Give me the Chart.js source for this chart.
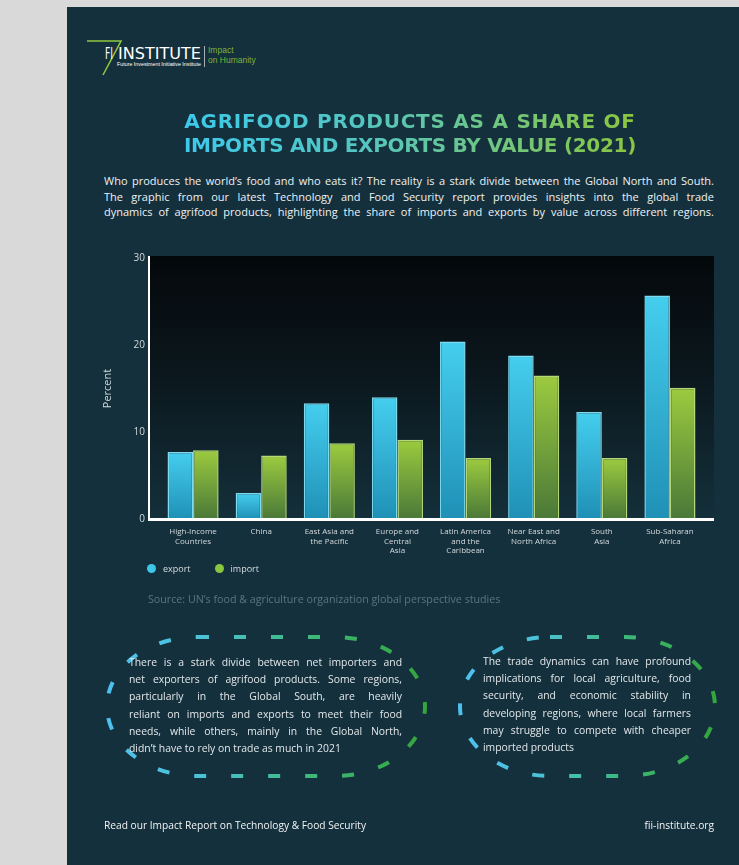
<!DOCTYPE html>
<html>
<head>
<meta charset="utf-8">
<script src="https://cdn.jsdelivr.net/npm/chart.js@4.4.1/dist/chart.umd.min.js"></script>
<style>
html, body { margin: 0; padding: 0; }
body {
    width: 739px; height: 865px; overflow: hidden; position: relative;
    background: #d9d9d9;
    font-family: "Open Sans", sans-serif;
}
.panel { position: absolute; left: 67px; top: 7px; right: 0; bottom: 0; background: #14303c; }
.abs { position: absolute; }
.title {
    left: 160px; top: 109px; width: 500px; text-align: center;
    font-family: "DejaVu Sans", sans-serif; font-weight: bold; font-size: 20px; line-height: 24px;
    white-space: nowrap;
}
.title span {
    background: linear-gradient(90deg, #3ccaec 0%, #55c6c0 40%, #8cc63f 100%);
    -webkit-background-clip: text; background-clip: text; color: transparent;
}
.intro { left: 104px; top: 173px; width: 610px; font-size: 11px; line-height: 15.5px; color: #eef2f4; }
.j { text-align: justify; text-align-last: justify; }
.note { font-size: 10.4px; line-height: 17.2px; color: #e3e8eb; }
.chart-wrap { left: 95px; top: 238px; width: 644px; height: 330px; }
.legend { left: 147px; top: 562px; font-size: 9px; color: #d8dde0; display: flex; }
.legend div { display: flex; align-items: center; margin-right: 24px; }
.legend i { display: inline-block; width: 9px; height: 9px; border-radius: 50%; margin-right: 7px; }
.source { left: 148px; top: 592px; font-size: 10.7px; color: #5d7480; white-space: nowrap; }
.footer { top: 818px; font-size: 10.2px; color: #f2f4f5; white-space: nowrap; }
</style>
</head>
<body>
<div class="panel"></div>

<!-- logo -->
<svg class="abs" style="left:0;top:0" width="739" height="90">
    <polyline points="87,41 121,41 103,75" fill="none" stroke="#8dc63f" stroke-width="1.6"/>
    <text x="105" y="59" fill="#ffffff" font-family="'DejaVu Sans Condensed', 'Liberation Sans Narrow', sans-serif" font-size="15" textLength="8" lengthAdjust="spacingAndGlyphs">FI</text>
    <text x="118" y="59" fill="#ffffff" font-family="'DejaVu Sans Condensed', 'Liberation Sans Narrow', sans-serif" font-size="15" textLength="83" lengthAdjust="spacingAndGlyphs">INSTITUTE</text>
    <text x="117" y="66" fill="#ffffff" font-family="'Liberation Sans Narrow', sans-serif" font-size="4.6" textLength="84" lengthAdjust="spacingAndGlyphs">Future Investment Initiative Institute</text>
    <line x1="204.5" y1="46" x2="204.5" y2="67" stroke="#c9d1d5" stroke-width="0.8"/>
    <text x="208" y="53" fill="#7db33a" font-family="'Liberation Sans', sans-serif" font-size="8.5">Impact</text>
    <text x="208" y="63" fill="#7db33a" font-family="'Liberation Sans', sans-serif" font-size="8.5">on Humanity</text>
</svg>

<div class="abs title">
    <span style="letter-spacing:0.75px">AGRIFOOD PRODUCTS AS A SHARE OF</span><br>
    <span style="letter-spacing:-0.3px">IMPORTS AND EXPORTS BY VALUE (2021)</span>
</div>

<div class="abs intro">
    <div class="j">Who produces the world’s food and who eats it? The reality is a stark divide between the Global North and South.</div>
    <div class="j">The graphic from our latest Technology and Food Security report provides insights into the global trade</div>
    <div class="j">dynamics of agrifood products, highlighting the share of imports and exports by value across different regions.</div>
</div>

<div class="abs chart-wrap"><canvas id="trade-chart" width="644" height="330"></canvas></div>
<div class="abs legend" id="legend"></div>
<div class="abs source">Source: UN’s food &amp; agriculture organization global perspective studies</div>

<!-- dashed ovals -->
<svg class="abs" style="left:0;top:0" width="739" height="865">
    <defs>
        <linearGradient id="dash-grad" x1="0" y1="0" x2="1" y2="0">
            <stop offset="0" stop-color="#4dc0f0"/>
            <stop offset="0.3" stop-color="#4cc2d6"/>
            <stop offset="0.65" stop-color="#3db878"/>
            <stop offset="1" stop-color="#33a53c"/>
        </linearGradient>
    </defs>
    <rect x="107" y="637" width="318" height="139" rx="90" ry="69.5" fill="none" stroke="url(#dash-grad)" stroke-width="4" stroke-dasharray="12 25"/>
    <rect x="460" y="637" width="255" height="139" rx="90" ry="69.5" fill="none" stroke="url(#dash-grad)" stroke-width="4" stroke-dasharray="12 25"/>
</svg>

<div class="abs note" style="left:129px;top:654px;width:273px">
    <div class="j">There is a stark divide between net importers and</div>
    <div class="j">net exporters of agrifood products. Some regions,</div>
    <div class="j">particularly in the Global South, are heavily</div>
    <div class="j">reliant on imports and exports to meet their food</div>
    <div class="j">needs, while others, mainly in the Global North,</div>
    <div>didn’t have to rely on trade as much in 2021</div>
</div>
<div class="abs note" style="left:483px;top:653px;width:208px">
    <div class="j">The trade dynamics can have profound</div>
    <div class="j">implications for local agriculture, food</div>
    <div class="j">security, and economic stability in</div>
    <div class="j">developing regions, where local farmers</div>
    <div class="j">may struggle to compete with cheaper</div>
    <div>imported products</div>
</div>

<div class="abs footer" style="left:104px">Read our Impact Report on Technology &amp; Food Security</div>
<div class="abs footer" style="right:25px">fii-institute.org</div>

<script>
// Regions on the x axis (multi-line labels as drawn in the graphic)
const regions = [
    ['High-Income', 'Countries'],
    'China',
    ['East Asia and', 'the Pacific'],
    ['Europe and', 'Central', 'Asia'],
    ['Latin America', 'and the', 'Caribbean'],
    ['Near East and', 'North Africa'],
    ['South', 'Asia'],
    ['Sub-Saharan', 'Africa']
];

// Agrifood share of exports / imports by value, 2021 (percent)
const exportShare = [7.7, 3.0, 13.3, 14.0, 20.4, 18.8, 12.3, 25.7];
const importShare = [7.9, 7.3, 8.7, 9.1, 7.0, 16.5, 7.0, 15.1];

const yTicks = [0, 10, 20, 30];

const seriesNames = ['export', 'import'];
const seriesColors = ['#3ec6e8', '#8cc63f'];

const labelColor = '#d3d9dc';

// Vertical gradient for each bar, bright at the top, darker at the axis
function barGradient(top, bottom) {
    return function(context) {
        const chart = context.chart;
        const yScale = chart.scales.y;
        if (!chart.chartArea || !yScale) return top;
        const yTop = yScale.getPixelForValue(context.raw);
        const yBottom = yScale.getPixelForValue(0);
        if (!isFinite(yTop) || yTop === yBottom) return top;
        const g = chart.ctx.createLinearGradient(0, yTop, 0, yBottom);
        g.addColorStop(0, top);
        g.addColorStop(1, bottom);
        return g;
    };
}

// Dark plot backdrop plus the white axis lines, which sit a bit outside the category band
const plotFrame = {
    id: 'plotFrame',
    beforeDatasetsDraw(chart) {
        const { ctx, chartArea } = chart;
        const left = chartArea.left - 10;
        const right = chartArea.right + 10;
        const top = chartArea.top - 2;
        const g = ctx.createLinearGradient(0, top, 0, chartArea.bottom);
        g.addColorStop(0, '#04080b');
        g.addColorStop(0.45, '#0b171d');
        g.addColorStop(1, '#14303b');
        ctx.save();
        ctx.fillStyle = g;
        ctx.fillRect(left, top, right - left, chartArea.bottom - top);
        ctx.restore();
    },
    afterDatasetsDraw(chart) {
        const { ctx, chartArea } = chart;
        const left = chartArea.left - 10;
        const right = chartArea.right + 10;
        ctx.save();
        ctx.strokeStyle = '#ffffff';
        ctx.lineWidth = 2;
        ctx.beginPath();
        ctx.moveTo(left, chartArea.top - 2);
        ctx.lineTo(left, chartArea.bottom + 1);
        ctx.stroke();
        ctx.lineWidth = 3;
        ctx.beginPath();
        ctx.moveTo(left - 1, chartArea.bottom + 0.5);
        ctx.lineTo(right, chartArea.bottom + 0.5);
        ctx.stroke();
        ctx.restore();
    }
};

const tradeChart = new Chart(document.getElementById('trade-chart'), {
    type: 'bar',
    data: {
        labels: regions,
        datasets: [
            {
                label: seriesNames[0],
                data: exportShare,
                backgroundColor: barGradient('#45ceee', '#1f90b6'),
                borderColor: '#7fd9ef',
                borderWidth: 1.5,
                borderSkipped: 'bottom'
            },
            {
                label: seriesNames[1],
                data: importShare,
                backgroundColor: barGradient('#9ccb3f', '#4a7838'),
                borderColor: '#b5d77c',
                borderWidth: 1.5,
                borderSkipped: 'bottom'
            }
        ]
    },
    options: {
        responsive: false,
        animation: false,
        categoryPercentage: 0.75,
        barPercentage: 1.0,
        layout: { padding: { top: 20, right: 35, left: 0, bottom: 0 } },
        plugins: {
            legend: { display: false },
            tooltip: { enabled: false }
        },
        scales: {
            x: {
                grid: { display: false },
                border: { display: false },
                ticks: {
                    color: labelColor,
                    font: { family: "'Open Sans', sans-serif", size: 8 },
                    maxRotation: 0,
                    autoSkip: false,
                    padding: 0
                },
                afterFit(scale) { scale.height = 49; }
            },
            y: {
                min: 0,
                max: 30,
                grid: { display: false },
                border: { display: false },
                afterBuildTicks(scale) { scale.ticks = yTicks.map(v => ({ value: v })); },
                ticks: {
                    color: labelColor,
                    font: { family: "'Open Sans', sans-serif", size: 10 },
                    padding: 6
                },
                title: {
                    display: true,
                    text: 'Percent',
                    color: labelColor,
                    font: { family: "'Open Sans', sans-serif", size: 11 },
                    padding: { top: 6, bottom: 0 }
                },
                afterFit(scale) { scale.width = 64; }
            }
        }
    },
    plugins: [plotFrame]
});

// Legend built from the chart's own datasets
const legendBox = document.getElementById('legend');
tradeChart.data.datasets.forEach((ds, i) => {
    const item = document.createElement('div');
    const dot = document.createElement('i');
    dot.style.background = seriesColors[i];
    item.appendChild(dot);
    item.appendChild(document.createTextNode(ds.label));
    legendBox.appendChild(item);
});
</script>
</body>
</html>
